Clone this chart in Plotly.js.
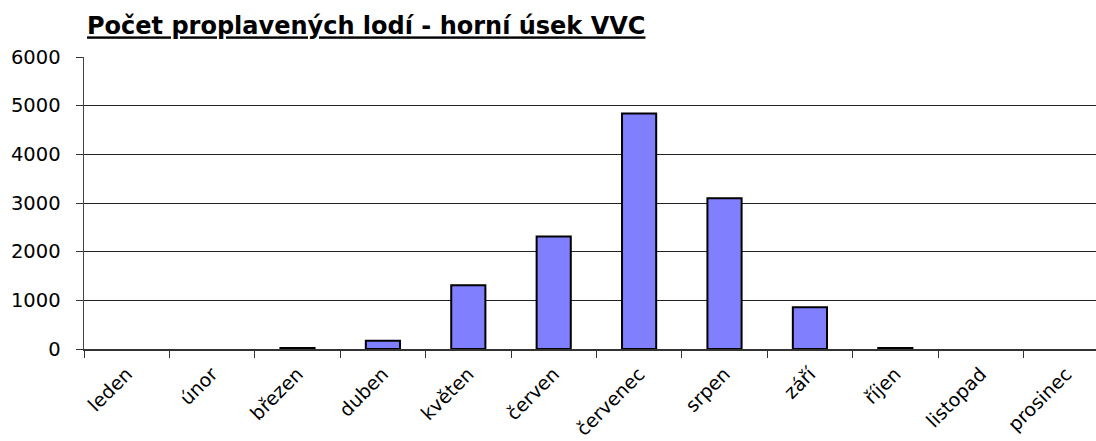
<!DOCTYPE html>
<html>
<head>
<meta charset="utf-8">
<script src="https://cdn.plot.ly/plotly-3.0.1.min.js"></script>
<style>html,body{margin:0;padding:0;background:#fff;}#chart{width:1096px;height:441px;}</style>
</head>
<body>
<div id="chart"></div>
<script>
var months = ["leden","únor","březen","duben","květen","červen","červenec","srpen","září","říjen","listopad","prosinec"];
var ships = [0, 0, 20, 170, 1310, 2310, 4840, 3100, 860, 20, 0, 0];
var yTicks = [0, 1000, 2000, 3000, 4000, 5000, 6000];
var titleText = "Počet proplavených lodí - horní úsek VVC";

var FONT = "DejaVu Sans, Liberation Sans, Arial, sans-serif";

var trace = {
  type: "bar",
  x: months,
  y: ships,
  marker: {color: "#8080FF", line: {color: "#000000", width: ships.map(function(v){return v > 0 ? 2 : 0;})}},
  hoverinfo: "x+y"
};

var layout = {
  width: 1096, height: 441,
  margin: {l: 84, r: 0, t: 57, b: 92, pad: 0},
  paper_bgcolor: "#ffffff", plot_bgcolor: "#ffffff",
  showlegend: false,
  bargap: 0.6,
  font: {family: FONT, color: "#000000"},
  title: {
    text: titleText,
    font: {family: FONT, size: 24, weight: "bold", color: "#000000", lineposition: "under"},
    xref: "container", x: 87/1096, xanchor: "left",
    yref: "container", y: 1 - 26/441, yanchor: "middle"
  },
  xaxis: {
    type: "category",
    range: [-0.5, 11.35],
    tickson: "boundaries",
    ticks: "outside", ticklen: 7, tickcolor: "#333333", tickwidth: 1,
    showline: true, linecolor: "#333333", linewidth: 1.5,
    showgrid: false,
    tickangle: -45,
    ticklabelstandoff: 5,
    tickfont: {size: 19, family: FONT},
    fixedrange: true
  },
  yaxis: {
    range: [0, 6000],
    tickvals: yTicks,
    ticktext: yTicks.map(String),
    ticks: "outside", ticklen: 7, tickcolor: "#333333", tickwidth: 1,
    showline: true, linecolor: "#444444", linewidth: 1.5,
    showgrid: true, gridcolor: "#222222", gridwidth: 1,
    zeroline: false,
    ticklabelstandoff: 11,
    tickfont: {size: 19.5, family: FONT},
    fixedrange: true
  }
};

Plotly.newPlot("chart", [trace], layout, {displayModeBar: false, staticPlot: true});
</script>
</body>
</html>
